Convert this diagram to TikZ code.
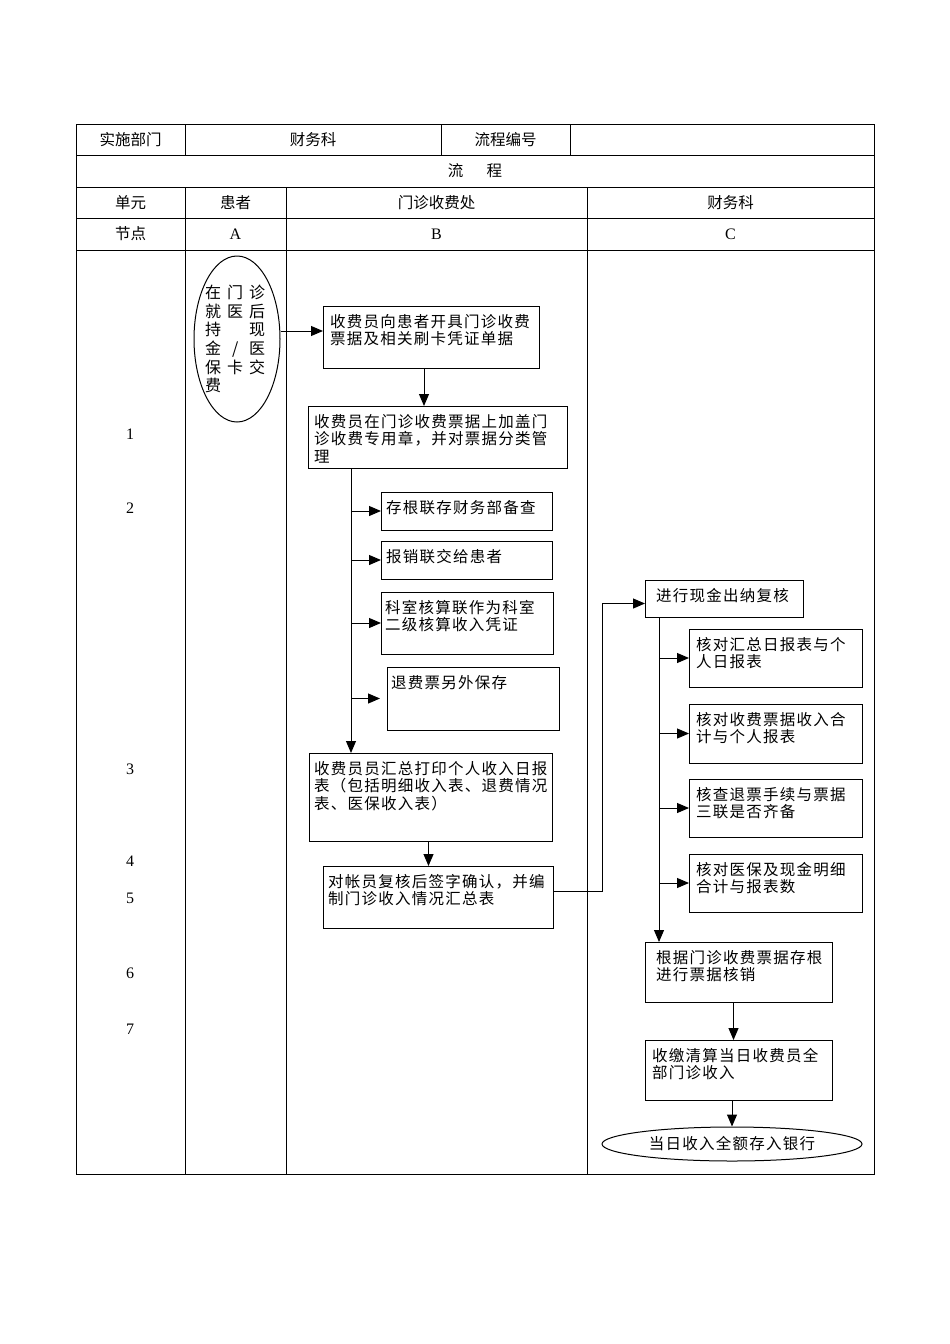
\documentclass[tikz,border=0pt]{standalone}
\usepackage{fontspec}
\setmainfont{Liberation Serif}
\newfontfamily\cjk{Noto Sans CJK SC}[LetterSpace=8]
\newfontfamily\cjkh{Noto Sans CJK SC}
\usetikzlibrary{arrows.meta,shapes.geometric}
\newcommand\mybox[7]{%
  \node[bx, minimum width={#4-#2}, minimum height={#5-#3}] (#1) at ({(#2+#4)/2},{(#3+#5)/2}) {};
  \node[txt, anchor=north west] (#1t) at ({#2+#7},{#3+8}) {#6};
}
\newcommand\ec[1]{\makebox[22pt][l]{\makebox[16pt][c]{#1}}}
\begin{document}
\begin{tikzpicture}[x=1pt,y=-1pt,
  tbl/.style={line width=0.8pt},
  bx/.style={draw, line width=1pt, rectangle, inner sep=0pt, outer sep=0pt},
  txt/.style={inner sep=0pt, align=left, font=\cjk\fontsize{15.5}{17.5}\selectfont},
  hd/.style={inner sep=0pt, font=\cjkh\fontsize{15.5}{17}\selectfont},
  lt/.style={inner sep=0pt, font=\fontsize{16}{18}\selectfont},
  arr/.style={line width=1pt, -{Triangle[length=12pt,width=10pt]}},
  ln/.style={line width=1pt}]
\useasboundingbox (0,0) rectangle (950,1344);
% table
\draw[tbl] (76,124) rectangle (874,1174);
\foreach \yy in {155,187,218,250} \draw[tbl] (76,\yy) -- (874,\yy);
\foreach \xx in {185,441,570} \draw[tbl] (\xx,124) -- (\xx,155);
\foreach \xx in {185,286,587} \draw[tbl] (\xx,187) -- (\xx,1174);
% header texts
\node[hd] (h1) at (130.5,139.5) {实施部门};
\node[hd] (h2) at (313,139.5) {财务科};
\node[hd] (h3) at (505.5,139.5) {流程编号};
\node[hd] (h4) at (475,171) {流\hspace{1.5em}程};
\node[hd] (h5) at (130.5,202.5) {单元};
\node[hd] (h6) at (235.5,202.5) {患者};
\node[hd] (h7) at (436.5,202.5) {门诊收费处};
\node[hd] (h8) at (730.5,202.5) {财务科};
\node[hd] (h9) at (130.5,234) {节点};
\node[lt] (hA) at (235.5,234) {A};
\node[lt] (hB) at (436.5,234) {B};
\node[lt] (hC) at (730.5,234) {C};
% step numbers
\node[lt] (n1) at (130,434) {1};
\node[lt] (n2) at (130,508) {2};
\node[lt] (n3) at (130,769) {3};
\node[lt] (n4) at (130,861) {4};
\node[lt] (n5) at (130,898) {5};
\node[lt] (n6) at (130,973) {6};
\node[lt] (n7) at (130,1029) {7};
% patient ellipse
\node[draw, ellipse, line width=1pt, minimum width=86pt, minimum height=166pt, inner sep=0pt] (ell) at (237,339) {};
\node[inner sep=0pt, anchor=north west, align=left, font=\cjkh\fontsize{16}{18.6}\selectfont] (ellt) at (205,285)
  {\ec{在}\ec{门}\ec{诊}\\ \ec{就}\ec{医}\ec{后}\\ \ec{持}\ec{}\ec{现}\\ \ec{金}\ec{/}\ec{医}\\ \ec{保}\ec{卡}\ec{交}\\ \ec{费}};
% B column
\mybox{b1}{323}{306}{539}{368}{收费员向患者开具门诊收费\\票据及相关刷卡凭证单据}{7}
\mybox{b2}{308}{406}{567}{468}{收费员在门诊收费票据上加盖门\\诊收费专用章，并对票据分类管\\理}{6}
\mybox{s1}{381}{492}{552}{530}{存根联存财务部备查}{5}
\mybox{s2}{381}{541}{552}{579}{报销联交给患者}{5}
\mybox{s3}{381}{592}{553}{654}{科室核算联作为科室\\二级核算收入凭证}{4}
\mybox{s4}{387}{667}{559}{730}{退费票另外保存}{4}
\mybox{b3}{309}{753}{552}{841}{收费员员汇总打印个人收入日报\\表（包括明细收入表、退费情况\\表、医保收入表）}{5}
\mybox{b4}{323}{866}{553}{928}{对帐员复核后签字确认，并编\\制门诊收入情况汇总表}{5}
% C column
\mybox{c1}{645}{580}{803}{617}{进行现金出纳复核}{11}
\mybox{c2}{689}{629}{862}{687}{核对汇总日报表与个\\人日报表}{7}
\mybox{c3}{689}{704}{862}{763}{核对收费票据收入合\\计与个人报表}{7}
\mybox{c4}{689}{779}{862}{837}{核查退票手续与票据\\三联是否齐备}{7}
\mybox{c5}{689}{854}{862}{912}{核对医保及现金明细\\合计与报表数}{7}
\mybox{c6}{645}{942}{832}{1002}{根据门诊收费票据存根\\进行票据核销}{11}
\mybox{c7}{645}{1040}{832}{1100}{收缴清算当日收费员全\\部门诊收入}{7}
\node[draw, ellipse, line width=1pt, minimum width=260pt, minimum height=34pt, inner sep=0pt, font=\cjk\fontsize{15.5}{17}\selectfont] (bank) at (732,1144) {当日收入全额存入银行};
% connectors
\draw[arr] ([yshift=8pt]ell.east) -- ([yshift=8pt]ell.east -| b1.west);
\draw[arr] ([xshift=-7pt]b1.south) -- ([xshift=-7pt]b1.south |- b2.north);
\coordinate (tB) at ([xshift=43pt]b2.south west);
\draw[arr] (tB) -- (tB |- b3.north);
\draw[arr] (tB |- s1.west) -- (s1.west);
\draw[arr] (tB |- s2.west) -- (s2.west);
\draw[arr] (tB |- s3.west) -- (s3.west);
\draw[arr] (tB |- s4.west) -- ([xshift=-7pt]s4.west);
\draw[arr] ([xshift=-2pt]b3.south) -- ([xshift=-2pt]b3.south |- b4.north);
\draw[arr] ([yshift=6pt]b4.east) -- ++(49,0) |- ([yshift=-5pt]c1.west);
\coordinate (tC) at ([xshift=14pt]c1.south west);
\draw[arr] (tC) -- (tC |- c6.north);
\draw[arr] (tC |- c2.west) -- (c2.west);
\draw[arr] (tC |- c3.west) -- (c3.west);
\draw[arr] (tC |- c4.west) -- (c4.west);
\draw[arr] (tC |- c5.west) -- (c5.west);
\draw[arr] ([xshift=-5pt]c6.south) -- ([xshift=-5pt]c6.south |- c7.north);
\draw[arr] (c7.south -| bank.north) -- (bank.north);
\end{tikzpicture}
\end{document}
